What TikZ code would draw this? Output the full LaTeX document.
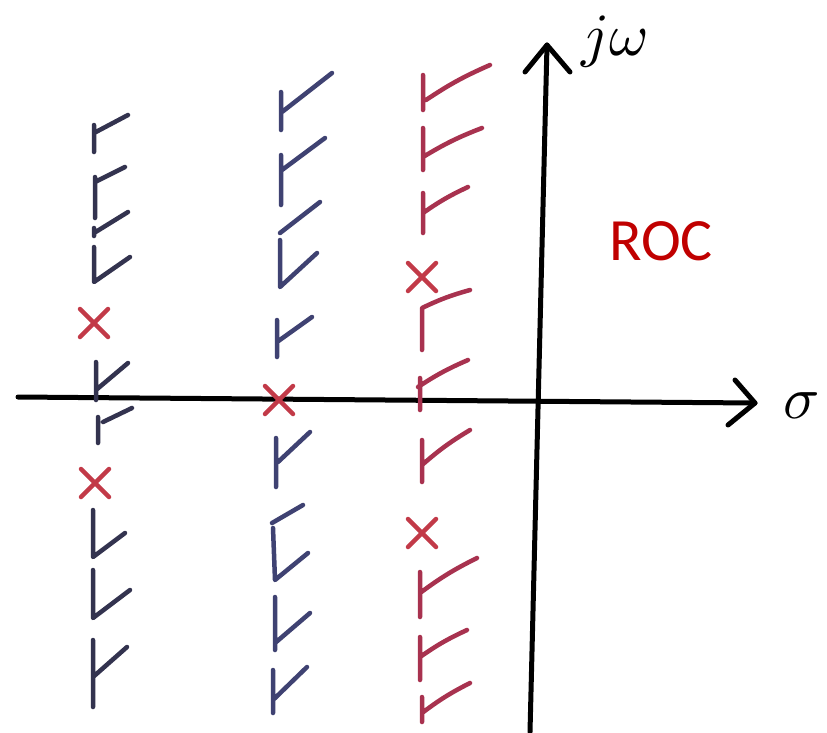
\documentclass[tikz,border=0pt]{standalone}
\usepackage{fontspec}
\newfontfamily\rocfont{Carlito}
\definecolor{leftink}{HTML}{33334F}
\definecolor{midink}{HTML}{3F4272}
\definecolor{rightink}{HTML}{A8324F}
\definecolor{xink}{HTML}{C23A48}
\definecolor{rocred}{HTML}{C00000}
\tikzset{
  hatch/.style={line width=4.5pt, line cap=round, line join=round},
  axisline/.style={line width=5pt, line cap=round, line join=round, black},
  polex/.style={line width=4.5pt, line cap=round, xink},
  lbl/.style={inner sep=0pt, scale=6}
}
\newcommand\polemark[2]{\draw[polex] (#1-14,#2-14)--(#1+14,#2+14) (#1-14,#2+14)--(#1+14,#2-14);}
\begin{document}
\begin{tikzpicture}[x=1pt,y=-1pt]
\useasboundingbox[fill=white] (0,0) rectangle (827,732);
% axes
\coordinate (hl) at (18,397);
\coordinate (hr) at (755,403);
\coordinate (vb) at (530,732);
\coordinate (vt) at (547,45);
\draw[axisline] (hl)--(hr);
\draw[axisline] (735,380)--(hr)--(728,425);
\draw[axisline] (vb)--(vt);
\draw[axisline] (525,72)--(vt)--(570,72);
% left column
\begin{scope}[hatch, leftink]
\draw (94,125)--(94,152) (94,133)--(128,115);
\draw (95,177)--(95,218) (95,182)--(125,167);
\draw (94,228)--(94,236) (94,233)--(128,212);
\draw (94,247)--(94,282)--(130,257);
\draw (96,362)--(96,400) (96,390)--(128,363);
\draw (98,417)--(98,443) (103,422)--(132,408);
\draw (93,510)--(93,557)--(125,533);
\draw (93,570)--(93,618)--(130,590);
\draw (93,640)--(93,707) (93,677)--(127,647);
\end{scope}
% middle column
\begin{scope}[hatch, midink]
\draw (281,92)--(281,130) (282,112)--(332,73);
\draw (281,155)--(281,205) (282,170)--(325,138);
\draw (280,233)--(320,202) (280,240)--(280,287)--(317,253);
\draw (277,320)--(277,357) (277,342)--(312,317);
\draw (276,438)--(276,487) (278,462)--(310,432);
\draw (272,523)--(303,505) (273,528)--(275,580)--(308,553);
\draw (275,597)--(275,650) (275,643)--(310,613);
\draw (273,670)--(273,713) (273,700)--(307,667);
\end{scope}
% right column
\begin{scope}[hatch, rightink]
\draw (423,75)--(423,110) (426,100) to[bend left=5] (490,65);
\draw (423,128)--(423,170) (423,157) to[bend left=5] (482,128);
\draw (423,193)--(423,233) (423,213) to[bend left=5] (468,187);
\draw (470,290) to[bend right=5] (422,308)--(422,350);
\draw (468,360) to[bend right=5] (418,387) (420,378)--(420,410);
\draw (422,440)--(422,482) (422,465) to[bend left=5] (470,430);
\draw (420,572)--(420,617) (420,593) to[bend left=5] (477,558);
\draw (420,637)--(420,680) (420,657) to[bend left=5] (467,630);
\draw (422,697)--(422,722) (422,713) to[bend left=5] (470,683);
\end{scope}
% poles
\polemark{94}{323}
\polemark{95}{483}
\polemark{279}{400}
\polemark{422}{277}
\polemark{422}{533}
% labels
\node[lbl] (jw) at (615,42) {$j\omega$};
\node[lbl] (sig) at (802,406) {$\sigma$};
\node[inner sep=0pt, text=rocred, font=\rocfont\fontsize{60}{72}\selectfont] (roc) at (661,241) {ROC};
\end{tikzpicture}
\end{document}
